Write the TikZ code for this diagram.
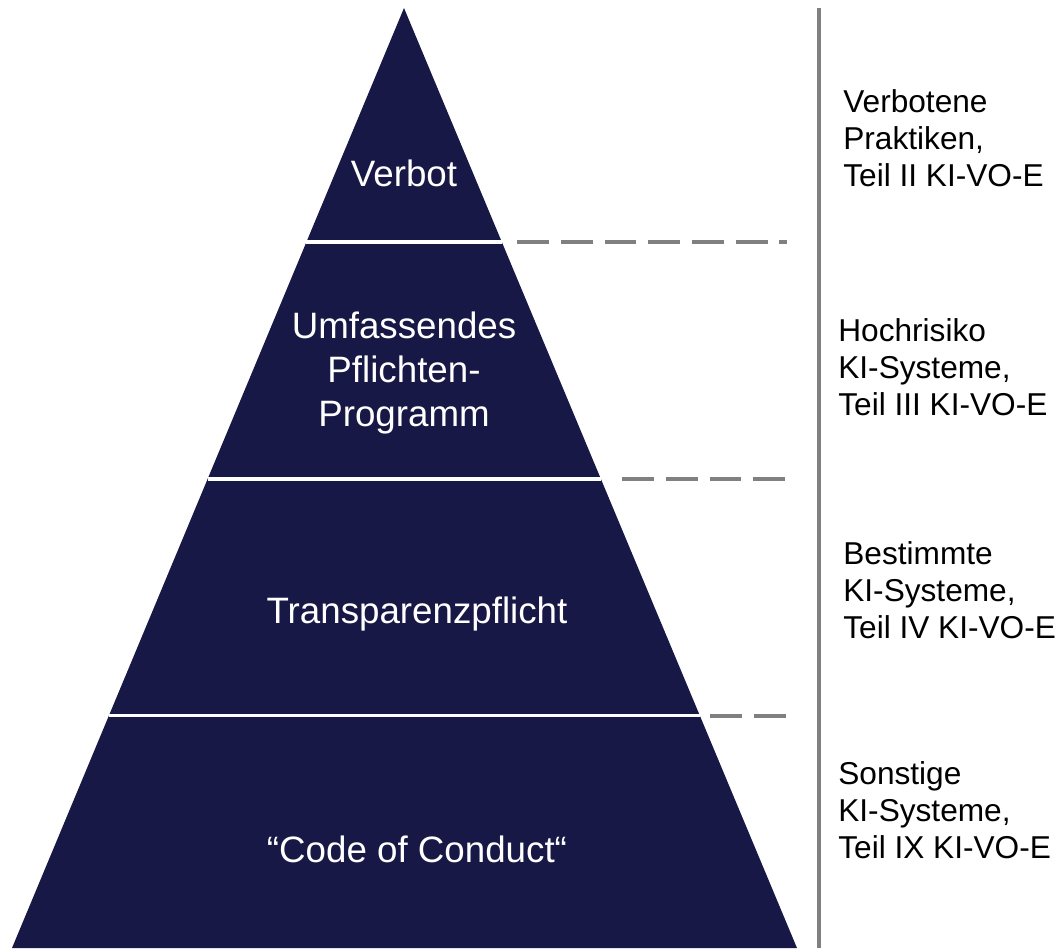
\documentclass[tikz,border=0pt]{standalone}
\usepackage{fontspec}
\setmainfont{Liberation Sans}
\usetikzlibrary{calc}
\definecolor{pyrblue}{RGB}{24,24,70}
\definecolor{linegray}{RGB}{128,128,128}

\begin{document}
\begin{tikzpicture}[x=0.02cm,y=-0.02cm,
    level/.style={text=white,align=center,font=\fontsize{20.9}{25}\selectfont},
    side/.style={anchor=west,align=left,inner sep=0pt,font=\fontsize{18}{21.2}\selectfont},
    sep/.style={white,line width=1.8pt},
    guide/.style={linegray,line width=2.3pt,dash pattern=on 18.1pt off 6.8pt}]
    \useasboundingbox (0,0) rectangle (1058,948);
    \coordinate (apex) at (404,8);
    \coordinate (bl) at (12,948);
    \coordinate (br) at (797,948);
    \fill[pyrblue] (apex) -- (br) -- (bl) -- cycle;
    \foreach \t/\n/\y/\s in {0.249/1/242/517,0.501/2/479/622,0.753/3/716/710}
    {
        \coordinate (l\n) at ($(apex)!\t!(bl)$);
        \coordinate (r\n) at ($(apex)!\t!(br)$);
        \coordinate (d\n) at (\s,\y);
        \coordinate (e\n) at (787,\y);
        \draw[sep] (l\n) -- (r\n);
        \draw[guide] (d\n) -- (e\n);
    }
    \coordinate (vtop) at (819,8);
    \coordinate (vbot) at (819,948);
    \draw[linegray,line width=1.9pt] (vtop) -- (vbot);

    \node[level] (verbot) at (404,173) {Verbot};
    \node[level] (pflicht) at (404,373) {Umfassendes\\Pflichten-\\Programm};
    \node[level] (transp) at (417,614) {Transparenzpflicht};
    \node[level] (code) at (417,849) {“Code of Conduct“};

    \node[side] (verboten) at (843,138) {Verbotene\\Praktiken,\\Teil II KI-VO-E};
    \node[side] (hoch) at (838,367) {Hochrisiko\\KI-Systeme,\\Teil III KI-VO-E};
    \node[side] (bestimmt) at (843,590) {Bestimmte\\KI-Systeme,\\Teil IV KI-VO-E};
    \node[side] (sonst) at (838,810) {Sonstige\\KI-Systeme,\\Teil IX KI-VO-E};
\end{tikzpicture}
\end{document}
